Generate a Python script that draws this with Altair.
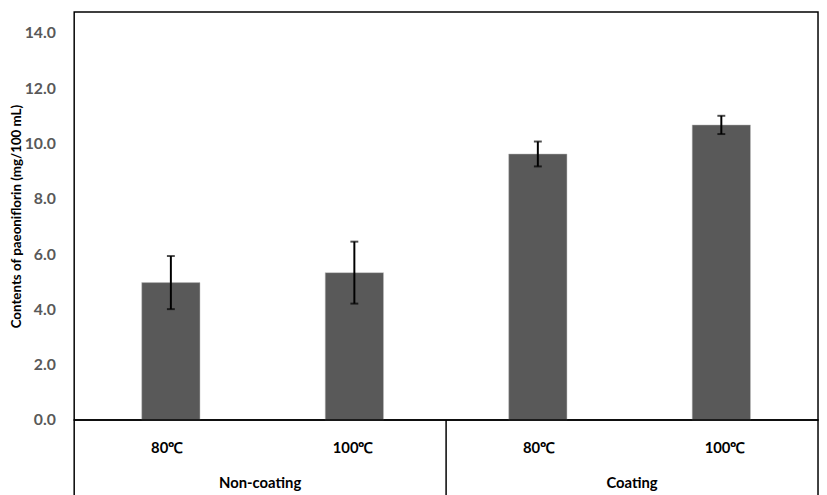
import altair as alt
import pandas as pd

# ---- data ----
groups = ["Non-coating", "Non-coating", "Coating", "Coating"]
temps = ["80℃", "100℃", "80℃", "100℃"]
means = [4.97, 5.33, 9.62, 10.67]
errs = [0.96, 1.12, 0.45, 0.33]
y_ticks = [0, 2, 4, 6, 8, 10, 12, 14]
group_names = ["Non-coating", "Coating"]

df = pd.DataFrame({"idx": list(range(len(means))), "group": groups, "temp": temps,
                   "mean": means, "err": errs})
df["lo"] = df["mean"] - df["err"]
df["hi"] = df["mean"] + df["err"]
df["row"] = "temp"

gdf = pd.DataFrame({"group": group_names,
                    "center": [df.loc[df.group == g, "idx"].mean() for g in group_names]})
gdf["row"] = "group"
# boundaries between groups
last_idx = [df.loc[df.group == g, "idx"].max() for g in group_names[:-1]]
div = pd.DataFrame({"pos": [i + 0.5 for i in last_idx]})

FONT = "Lato"
xs = alt.Scale(domain=[-0.5, len(means) - 0.5], nice=False, zero=False)
ys = alt.Scale(domain=[0, 14.75], nice=False, zero=True)

base = alt.Chart(df)
bars = base.mark_bar(size=59, color="#595959", stroke="#bfbfbf", strokeWidth=0.5).encode(
    x=alt.X("idx:Q", scale=xs, axis=None),
    y=alt.Y("mean:Q", scale=ys,
            title="Contents of paeoniflorin (mg/100 mL)",
            axis=alt.Axis(values=y_ticks, format=".1f", grid=False, ticks=False, tickSize=0,
                          domain=False, labelPadding=19, labelColor="#595959",
                          labelFont=FONT, labelFontSize=16, labelFontWeight="bold",
                          titleFont=FONT, titleFontSize=13.5, titleFontWeight="bold",
                          titleColor="black", titlePadding=1)),
)
err_rule = base.mark_rule(color="black", strokeWidth=2).encode(
    x=alt.X("idx:Q", scale=xs, axis=None), y=alt.Y("lo:Q", scale=ys), y2="hi:Q")
cap_hi = base.mark_tick(color="black", thickness=2, size=8, orient="horizontal").encode(
    x=alt.X("idx:Q", scale=xs, axis=None), y=alt.Y("hi:Q", scale=ys))
cap_lo = base.mark_tick(color="black", thickness=2, size=8, orient="horizontal").encode(
    x=alt.X("idx:Q", scale=xs, axis=None), y=alt.Y("lo:Q", scale=ys))

top = alt.layer(bars, err_rule, cap_hi, cap_lo).properties(width=753, height=413)

rows = alt.Scale(type="point", domain=["temp", "group"], padding=0.78)
temp_text = alt.Chart(df).mark_text(font=FONT, fontSize=15, fontWeight="bold", color="black").encode(
    x=alt.X("idx:Q", scale=xs, axis=None),
    y=alt.Y("row:N", scale=rows, axis=None),
    text="temp:N")
group_text = alt.Chart(gdf).mark_text(font=FONT, fontSize=15, fontWeight="bold", color="black").encode(
    x=alt.X("center:Q", scale=xs, axis=None),
    y=alt.Y("row:N", scale=rows, axis=None),
    text="group:N")
divider = alt.Chart(div).mark_rule(color="black", strokeWidth=1.5).encode(
    x=alt.X("pos:Q", scale=xs, axis=None))

bottom = alt.layer(temp_text, group_text, divider).properties(width=753, height=92)

chart = alt.vconcat(top, bottom, spacing=0, bounds="flush").resolve_scale(
    x="independent", y="independent"
).properties(
    padding={"left": 0, "top": 0, "right": 0, "bottom": 0}
).configure_view(stroke="black", strokeWidth=1.5)

chart.save("out.html", embed_options={"renderer": "svg", "actions": False})
